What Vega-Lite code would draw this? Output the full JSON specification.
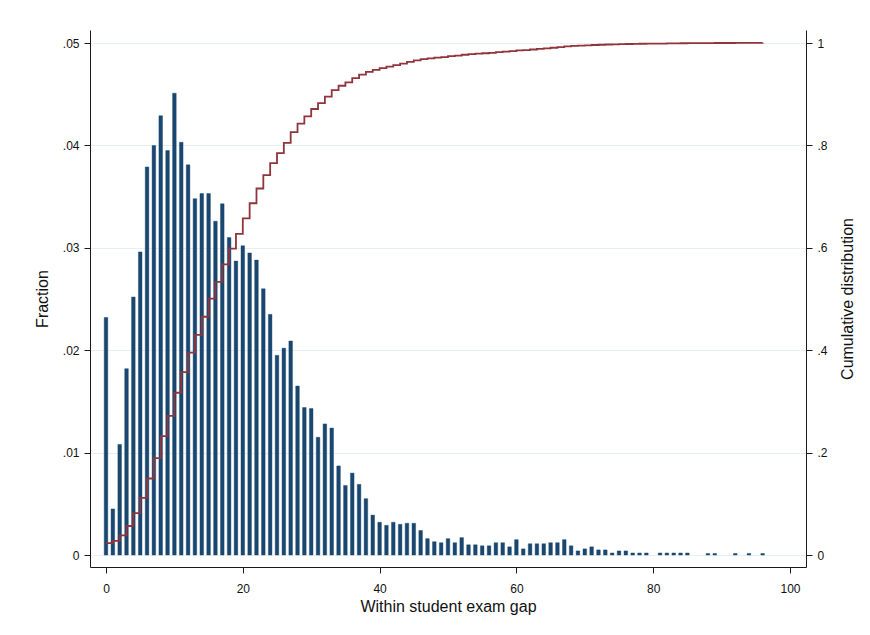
{
  "$schema": "https://vega.github.io/schema/vega-lite/v6.json",
  "width": 716,
  "height": 537,
  "autosize": {"type": "none"},
  "padding": {"left": 90, "top": 30, "right": 64, "bottom": 68},
  "background": "white",
  "config": {
    "view": {"stroke": null},
    "font": "Liberation Sans",
    "axis": {
      "domainColor": "#1a1a1a",
      "tickColor": "#1a1a1a",
      "labelColor": "#111111",
      "titleColor": "#111111",
      "labelFontSize": 12,
      "titleFontSize": 16,
      "titleFontWeight": "normal",
      "tickSize": 6,
      "gridColor": "#e6eff2",
      "gridWidth": 1.2
    }
  },
  "data": {
    "values": [
      {"gap": 0, "fraction": 0.0232}, {"gap": 1, "fraction": 0.0045}, {"gap": 2, "fraction": 0.0108},
      {"gap": 3, "fraction": 0.0182}, {"gap": 4, "fraction": 0.0252}, {"gap": 5, "fraction": 0.0296},
      {"gap": 6, "fraction": 0.0379}, {"gap": 7, "fraction": 0.0400}, {"gap": 8, "fraction": 0.0429},
      {"gap": 9, "fraction": 0.0395}, {"gap": 10, "fraction": 0.0451}, {"gap": 11, "fraction": 0.0403},
      {"gap": 12, "fraction": 0.0381}, {"gap": 13, "fraction": 0.0348}, {"gap": 14, "fraction": 0.0353},
      {"gap": 15, "fraction": 0.0353}, {"gap": 16, "fraction": 0.0326}, {"gap": 17, "fraction": 0.0343},
      {"gap": 18, "fraction": 0.0310}, {"gap": 19, "fraction": 0.0287}, {"gap": 20, "fraction": 0.0302},
      {"gap": 21, "fraction": 0.0295}, {"gap": 22, "fraction": 0.0288}, {"gap": 23, "fraction": 0.0260},
      {"gap": 24, "fraction": 0.0235}, {"gap": 25, "fraction": 0.0195}, {"gap": 26, "fraction": 0.0202},
      {"gap": 27, "fraction": 0.0209}, {"gap": 28, "fraction": 0.0165}, {"gap": 29, "fraction": 0.0144},
      {"gap": 30, "fraction": 0.0143}, {"gap": 31, "fraction": 0.0115}, {"gap": 32, "fraction": 0.0128},
      {"gap": 33, "fraction": 0.0124}, {"gap": 34, "fraction": 0.0087}, {"gap": 35, "fraction": 0.0068},
      {"gap": 36, "fraction": 0.0080}, {"gap": 37, "fraction": 0.0069}, {"gap": 38, "fraction": 0.0055},
      {"gap": 39, "fraction": 0.0039}, {"gap": 40, "fraction": 0.0032}, {"gap": 41, "fraction": 0.0029},
      {"gap": 42, "fraction": 0.0032}, {"gap": 43, "fraction": 0.0030}, {"gap": 44, "fraction": 0.0031},
      {"gap": 45, "fraction": 0.0031}, {"gap": 46, "fraction": 0.0024}, {"gap": 47, "fraction": 0.0016},
      {"gap": 48, "fraction": 0.0013}, {"gap": 49, "fraction": 0.0012}, {"gap": 50, "fraction": 0.0016},
      {"gap": 51, "fraction": 0.0012}, {"gap": 52, "fraction": 0.0017}, {"gap": 53, "fraction": 0.0010},
      {"gap": 54, "fraction": 0.0010}, {"gap": 55, "fraction": 0.0009}, {"gap": 56, "fraction": 0.0009},
      {"gap": 57, "fraction": 0.0012}, {"gap": 58, "fraction": 0.0012}, {"gap": 59, "fraction": 0.0008},
      {"gap": 60, "fraction": 0.0015}, {"gap": 61, "fraction": 0.0006}, {"gap": 62, "fraction": 0.0011},
      {"gap": 63, "fraction": 0.0011}, {"gap": 64, "fraction": 0.0011}, {"gap": 65, "fraction": 0.0012},
      {"gap": 66, "fraction": 0.0012}, {"gap": 67, "fraction": 0.0015}, {"gap": 68, "fraction": 0.0009},
      {"gap": 69, "fraction": 0.0004}, {"gap": 70, "fraction": 0.0006}, {"gap": 71, "fraction": 0.0008},
      {"gap": 72, "fraction": 0.0005}, {"gap": 73, "fraction": 0.0005}, {"gap": 74, "fraction": 0.0002},
      {"gap": 75, "fraction": 0.0004}, {"gap": 76, "fraction": 0.0004}, {"gap": 77, "fraction": 0.0002},
      {"gap": 78, "fraction": 0.0002}, {"gap": 79, "fraction": 0.0002}, {"gap": 81, "fraction": 0.0002},
      {"gap": 82, "fraction": 0.0002}, {"gap": 83, "fraction": 0.0002}, {"gap": 84, "fraction": 0.0002},
      {"gap": 85, "fraction": 0.0002}, {"gap": 88, "fraction": 0.00015}, {"gap": 89, "fraction": 0.00015},
      {"gap": 92, "fraction": 0.00015}, {"gap": 94, "fraction": 0.00015}, {"gap": 96, "fraction": 0.00015}
    ]
  },
  "layer": [
    {
      "mark": {
        "type": "bar",
        "color": "#1a476f",
        "stroke": "#1a476f",
        "strokeWidth": 0.6,
        "strokeOpacity": 0.7,
        "size": 3.6
      },
      "encoding": {
        "x": {
          "field": "gap",
          "type": "quantitative",
          "scale": {"domain": [-2.34, 102.34], "nice": false, "zero": false, "padding": 0},
          "axis": {
            "values": [0, 20, 40, 60, 80, 100],
            "title": "Within student exam gap",
            "grid": false,
            "labelPadding": 10,
            "titlePadding": 4
          }
        },
        "y": {
          "field": "fraction",
          "type": "quantitative",
          "scale": {"domain": [-0.00117, 0.05127], "nice": false, "zero": true},
          "axis": {
            "orient": "left",
            "values": [0, 0.01, 0.02, 0.03, 0.04, 0.05],
            "labelExpr": "datum.value == 0 ? '0' : replace(format(datum.value, '.2f'), '0.', '.')",
            "title": "Fraction",
            "grid": true,
            "labelPadding": 5,
            "titlePadding": 12
          }
        }
      }
    },
    {
      "transform": [
        {
          "window": [{"op": "sum", "field": "fraction", "as": "cum"}],
          "sort": [{"field": "gap", "order": "ascending"}],
          "frame": [null, 0]
        }
      ],
      "mark": {
        "type": "line",
        "interpolate": "step-after",
        "color": "#90353b",
        "strokeWidth": 1.8
      },
      "encoding": {
        "x": {"field": "gap", "type": "quantitative"},
        "y": {
          "field": "cum",
          "type": "quantitative",
          "scale": {"domain": [-0.0234, 1.0254], "nice": false, "zero": false},
          "axis": {
            "orient": "right",
            "values": [0, 0.2, 0.4, 0.6, 0.8, 1],
            "labelExpr": "datum.value == 0 ? '0' : datum.value == 1 ? '1' : replace(format(datum.value, '.1f'), '0.', '.')",
            "title": "Cumulative distribution",
            "titleAngle": 270,
            "titleBaseline": "top",
            "grid": false,
            "labelPadding": 5,
            "titlePadding": 12
          }
        }
      }
    }
  ],
  "resolve": {"scale": {"y": "independent"}}
}
